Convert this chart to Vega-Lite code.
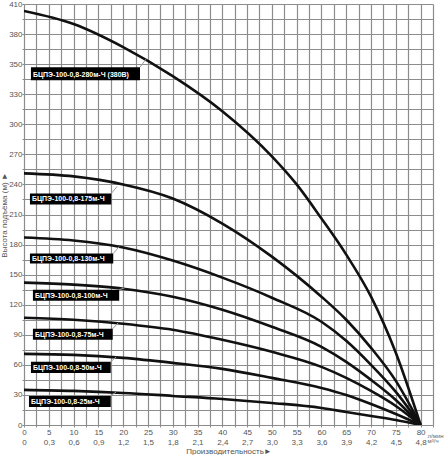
{
  "$schema": "https://vega.github.io/schema/vega-lite/v6.json",
  "width": 409,
  "height": 421,
  "padding": {"left": 0, "top": 0, "right": 0, "bottom": 0},
  "background": "white",
  "datasets": {
    "curves": [
      {"model": "280", "q": 0, "h": 413}, {"model": "280", "q": 10, "h": 400}, {"model": "280", "q": 20, "h": 377},
      {"model": "280", "q": 30, "h": 348}, {"model": "280", "q": 40, "h": 313}, {"model": "280", "q": 50, "h": 268},
      {"model": "280", "q": 55, "h": 240}, {"model": "280", "q": 60, "h": 206}, {"model": "280", "q": 65, "h": 170},
      {"model": "280", "q": 70, "h": 128}, {"model": "280", "q": 75, "h": 72}, {"model": "280", "q": 80, "h": 0},
      {"model": "175", "q": 0, "h": 251}, {"model": "175", "q": 10, "h": 248}, {"model": "175", "q": 20, "h": 240},
      {"model": "175", "q": 30, "h": 226}, {"model": "175", "q": 40, "h": 201}, {"model": "175", "q": 50, "h": 168},
      {"model": "175", "q": 60, "h": 128}, {"model": "175", "q": 65, "h": 105}, {"model": "175", "q": 70, "h": 77},
      {"model": "175", "q": 75, "h": 44}, {"model": "175", "q": 80, "h": 0},
      {"model": "130", "q": 0, "h": 187}, {"model": "130", "q": 10, "h": 184}, {"model": "130", "q": 20, "h": 177},
      {"model": "130", "q": 30, "h": 164}, {"model": "130", "q": 40, "h": 147}, {"model": "130", "q": 50, "h": 127},
      {"model": "130", "q": 60, "h": 103}, {"model": "130", "q": 65, "h": 84}, {"model": "130", "q": 70, "h": 60},
      {"model": "130", "q": 75, "h": 33}, {"model": "130", "q": 80, "h": 0},
      {"model": "100", "q": 0, "h": 142}, {"model": "100", "q": 10, "h": 140}, {"model": "100", "q": 20, "h": 136},
      {"model": "100", "q": 30, "h": 128}, {"model": "100", "q": 40, "h": 115}, {"model": "100", "q": 50, "h": 98},
      {"model": "100", "q": 60, "h": 78}, {"model": "100", "q": 65, "h": 63}, {"model": "100", "q": 70, "h": 45},
      {"model": "100", "q": 75, "h": 25}, {"model": "100", "q": 80, "h": 0},
      {"model": "75", "q": 0, "h": 107}, {"model": "75", "q": 10, "h": 105}, {"model": "75", "q": 20, "h": 101},
      {"model": "75", "q": 30, "h": 95}, {"model": "75", "q": 40, "h": 85}, {"model": "75", "q": 50, "h": 73},
      {"model": "75", "q": 60, "h": 58}, {"model": "75", "q": 65, "h": 47}, {"model": "75", "q": 70, "h": 34},
      {"model": "75", "q": 75, "h": 19}, {"model": "75", "q": 80, "h": 0},
      {"model": "50", "q": 0, "h": 71}, {"model": "50", "q": 10, "h": 70}, {"model": "50", "q": 20, "h": 67},
      {"model": "50", "q": 30, "h": 62}, {"model": "50", "q": 40, "h": 56}, {"model": "50", "q": 50, "h": 47},
      {"model": "50", "q": 60, "h": 37}, {"model": "50", "q": 65, "h": 30}, {"model": "50", "q": 70, "h": 21},
      {"model": "50", "q": 75, "h": 11}, {"model": "50", "q": 80, "h": 0},
      {"model": "25", "q": 0, "h": 35}, {"model": "25", "q": 10, "h": 34}, {"model": "25", "q": 20, "h": 32},
      {"model": "25", "q": 30, "h": 29}, {"model": "25", "q": 40, "h": 26}, {"model": "25", "q": 50, "h": 22},
      {"model": "25", "q": 60, "h": 17}, {"model": "25", "q": 65, "h": 13}, {"model": "25", "q": 70, "h": 9},
      {"model": "25", "q": 75, "h": 5}, {"model": "25", "q": 80, "h": 0}
    ],
    "labels": [
      {"name": "БЦПЭ-100-0,8-280м-Ч (380В)", "q1": 1.4, "q2": 23.4, "lo": 344, "hi": 357, "lq": 24.6, "lh": 365},
      {"name": "БЦПЭ-100-0,8-175м-Ч", "q1": 1.2, "q2": 17.6, "lo": 220, "hi": 231, "lq": 18.8, "lh": 238},
      {"name": "БЦПЭ-100-0,8-130м-Ч", "q1": 1.2, "q2": 18.0, "lo": 161, "hi": 171, "lq": 19.2, "lh": 178},
      {"name": "БЦПЭ-100-0,8-100м-Ч", "q1": 1.8, "q2": 19.2, "lo": 124, "hi": 135, "lq": 20.4, "lh": 137},
      {"name": "БЦПЭ-100-0,8-75м-Ч", "q1": 1.8, "q2": 17.9, "lo": 85, "hi": 96, "lq": 19.0, "lh": 102},
      {"name": "БЦПЭ-100-0,8-50м-Ч", "q1": 1.4, "q2": 17.5, "lo": 52, "hi": 63, "lq": 18.6, "lh": 68},
      {"name": "БЦПЭ-100-0,8-25м-Ч", "q1": 1.0, "q2": 17.5, "lo": 18, "hi": 29, "lq": 18.6, "lh": 33}
    ],
    "units": [
      {"q": 80, "unit": "л/мин", "line": 1},
      {"q": 80, "unit": "м³/ч", "line": 2}
    ]
  },
  "encoding": {
    "x": {
      "type": "quantitative",
      "scale": {"domain": [0, 82.5], "nice": false, "zero": false},
      "axis": {
        "title": "Производительность►",
        "grid": true,
        "gridColor": "#8c8c8c",
        "gridWidth": 1.2,
        "values": [0, 2.5, 5, 7.5, 10, 12.5, 15, 17.5, 20, 22.5, 25, 27.5, 30, 32.5, 35, 37.5, 40, 42.5, 45, 47.5, 50, 52.5, 55, 57.5, 60, 62.5, 65, 67.5, 70, 72.5, 75, 77.5, 80, 82.5],
        "labelExpr": "datum.value % 5 != 0 ? '' : [datum.label, datum.value == 0 ? '0' : replace(format(datum.value * 0.06, '.1f'), '.', ',')]",
        "labelLineHeight": 10,
        "labelOverlap": false,
        "labelFlush": false,
        "labelBound": false,
        "labelPadding": 1,
        "tickSize": 2,
        "titlePadding": 1
      }
    },
    "y": {
      "type": "quantitative",
      "scale": {"domain": [0, 420], "nice": false},
      "axis": {
        "title": "Высота подъёма (м) ►",
        "grid": true,
        "gridColor": "#8c8c8c",
        "gridWidth": 1.2,
        "values": [0, 15, 30, 45, 60, 75, 90, 105, 120, 135, 150, 165, 180, 195, 210, 225, 240, 255, 270, 285, 300, 315, 330, 345, 360, 375, 390, 405, 420],
        "labelExpr": "datum.value % 30 != 0 ? '' : datum.value == 360 ? '350' : datum.value == 390 ? '380' : datum.value == 420 ? '410' : datum.label",
        "labelOverlap": false,
        "labelFlush": false,
        "labelBound": false,
        "labelPadding": 0,
        "tickSize": 2,
        "titlePadding": 0
      }
    }
  },
  "layer": [
    {
      "data": {"name": "curves"},
      "mark": {"type": "line", "interpolate": "monotone", "color": "#111111", "strokeWidth": 2.6, "clip": true},
      "encoding": {
        "x": {"field": "q", "type": "quantitative"},
        "y": {"field": "h", "type": "quantitative"},
        "detail": {"field": "model", "type": "nominal"}
      }
    },
    {
      "data": {"name": "labels"},
      "mark": {"type": "rule", "color": "#9a9a9a", "strokeWidth": 1},
      "encoding": {
        "x": {"field": "q2", "type": "quantitative"},
        "y": {"field": "hi", "type": "quantitative"},
        "x2": {"field": "lq"},
        "y2": {"field": "lh"}
      }
    },
    {
      "data": {"name": "labels"},
      "mark": {"type": "rect", "color": "#000000"},
      "encoding": {
        "x": {"field": "q1", "type": "quantitative"},
        "x2": {"field": "q2"},
        "y": {"field": "lo", "type": "quantitative"},
        "y2": {"field": "hi"}
      }
    },
    {
      "data": {"name": "labels"},
      "mark": {"type": "text", "align": "left", "baseline": "bottom", "dx": 2, "dy": -2, "color": "white", "font": "Liberation Sans", "fontWeight": "bold", "fontSize": 7},
      "encoding": {
        "x": {"field": "q1", "type": "quantitative"},
        "y": {"field": "lo", "type": "quantitative"},
        "text": {"field": "name", "type": "nominal"}
      }
    },
    {
      "data": {"name": "units"},
      "mark": {"type": "text", "align": "left", "baseline": "top", "dx": 7, "color": "#666666", "font": "Liberation Sans", "fontSize": 6, "clip": false},
      "encoding": {
        "x": {"field": "q", "type": "quantitative"},
        "y": {"datum": 0},
        "yOffset": {"field": "line", "type": "ordinal", "scale": {"domain": [1, 2], "range": [5, 15]}},
        "text": {"field": "unit", "type": "nominal"}
      }
    }
  ],
  "config": {
    "view": {"stroke": null},
    "axis": {
      "domain": false,
      "gridOpacity": 1,
      "tickColor": "#8c8c8c",
      "labelFont": "Liberation Sans",
      "labelFontSize": 8,
      "labelColor": "#555555",
      "titleFont": "Liberation Sans",
      "titleFontSize": 8,
      "titleFontWeight": "normal",
      "titleColor": "#555555"
    }
  }
}
